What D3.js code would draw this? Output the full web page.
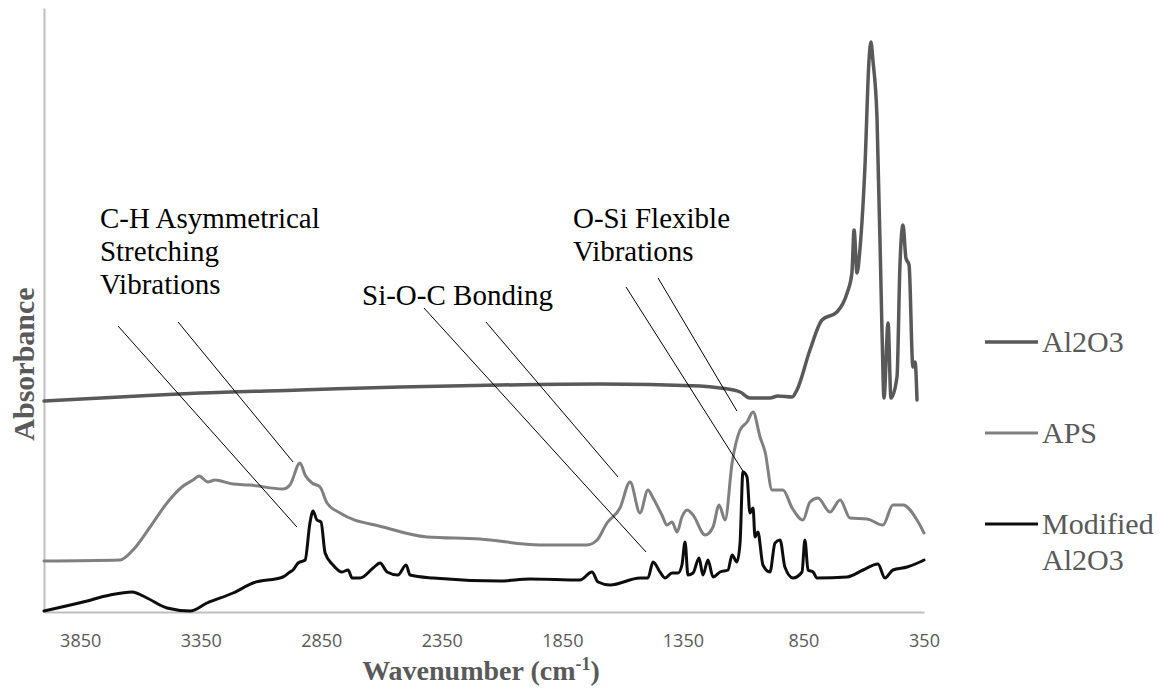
<!DOCTYPE html>
<html>
<head>
<meta charset="utf-8">
<script src="https://cdn.jsdelivr.net/npm/d3@7"></script>
<style>
    body { margin: 0; background: #fff; }
    svg { display: block; }
</style>
</head>
<body>
<svg id="chart"></svg>
<script>
// FTIR spectra (wavenumber in cm-1, absorbance in arbitrary units)
const al2o3Wavenumber = [4000, 3685, 3353, 2938, 2523, 2109, 1694, 1279, 1196, 1113, 1072, 989, 956, 897, 877, 823, 773, 711, 669, 649, 640, 628, 615, 595, 578, 570, 562, 545, 524, 516, 499, 487, 462, 450, 437, 425, 412, 396, 387, 379];
const al2o3Absorbance = [0.422, 0.430, 0.438, 0.444, 0.450, 0.454, 0.456, 0.452, 0.448, 0.440, 0.428, 0.428, 0.432, 0.430, 0.444, 0.524, 0.584, 0.600, 0.638, 0.678, 0.764, 0.678, 0.730, 0.890, 1.104, 1.140, 1.104, 0.990, 0.558, 0.428, 0.578, 0.428, 0.470, 0.690, 0.774, 0.708, 0.694, 0.490, 0.500, 0.424];

const apsWavenumber = [4000, 3685, 3631, 3560, 3490, 3428, 3382, 3357, 3320, 3291, 3216, 3146, 3009, 2980, 2938, 2917, 2888, 2855, 2826, 2772, 2594, 2411, 2192, 1943, 1748, 1706, 1665, 1611, 1569, 1528, 1495, 1474, 1437, 1416, 1395, 1374, 1354, 1333, 1308, 1258, 1225, 1200, 1175, 1146, 1113, 1084, 1059, 1030, 1009, 980, 935, 897, 852, 823, 790, 740, 698, 657, 586, 520, 479, 437, 379, 350];
const apsAbsorbance = [0.102, 0.104, 0.124, 0.170, 0.218, 0.250, 0.264, 0.272, 0.260, 0.264, 0.256, 0.254, 0.246, 0.254, 0.298, 0.274, 0.258, 0.250, 0.218, 0.198, 0.170, 0.150, 0.146, 0.134, 0.134, 0.144, 0.178, 0.208, 0.260, 0.198, 0.244, 0.228, 0.194, 0.174, 0.180, 0.160, 0.190, 0.204, 0.194, 0.154, 0.170, 0.214, 0.184, 0.298, 0.364, 0.380, 0.400, 0.350, 0.320, 0.244, 0.244, 0.208, 0.184, 0.220, 0.228, 0.200, 0.224, 0.188, 0.186, 0.174, 0.214, 0.214, 0.184, 0.158];

const modWavenumber = [4000, 3838, 3726, 3635, 3573, 3490, 3394, 3324, 3216, 3133, 3009, 2980, 2967, 2946, 2917, 2897, 2884, 2868, 2851, 2834, 2801, 2764, 2739, 2722, 2689, 2635, 2606, 2577, 2532, 2498, 2482, 2386, 2109, 1984, 1777, 1727, 1702, 1652, 1528, 1495, 1474, 1445, 1424, 1395, 1370, 1354, 1341, 1329, 1308, 1283, 1267, 1246, 1225, 1196, 1163, 1146, 1126, 1113, 1101, 1084, 1072, 1059, 1051, 1039, 1018, 989, 968, 947, 927, 893, 856, 844, 831, 810, 794, 669, 603, 541, 512, 479, 420, 367, 350];
const modAbsorbance = [0.002, 0.020, 0.034, 0.040, 0.028, 0.008, 0.002, 0.018, 0.038, 0.058, 0.070, 0.080, 0.084, 0.098, 0.104, 0.178, 0.202, 0.184, 0.180, 0.118, 0.094, 0.080, 0.084, 0.068, 0.068, 0.088, 0.098, 0.080, 0.074, 0.094, 0.074, 0.068, 0.062, 0.066, 0.064, 0.080, 0.060, 0.054, 0.068, 0.068, 0.100, 0.080, 0.068, 0.078, 0.078, 0.094, 0.140, 0.074, 0.078, 0.108, 0.074, 0.104, 0.070, 0.080, 0.084, 0.114, 0.100, 0.138, 0.280, 0.270, 0.198, 0.208, 0.150, 0.160, 0.094, 0.080, 0.138, 0.144, 0.090, 0.068, 0.080, 0.144, 0.084, 0.080, 0.068, 0.070, 0.084, 0.096, 0.068, 0.084, 0.090, 0.100, 0.104];

const seriesNames = ["Al2O3", "APS", "Modified Al2O3"];
const tickLabels = [3850, 3350, 2850, 2350, 1850, 1350, 850, 350];

const series = [
    { name: seriesNames[0], x: al2o3Wavenumber, y: al2o3Absorbance, color: "#595959", width: 3.5 },
    { name: seriesNames[1], x: apsWavenumber, y: apsAbsorbance, color: "#808080", width: 3 },
    { name: seriesNames[2], x: modWavenumber, y: modAbsorbance, color: "#0d0d0d", width: 3 },
];

// peak annotations, anchored in data units
const annotations = [
    { lines: ["C-H Asymmetrical", "Stretching", "Vibrations"], at: [3768, 0.768],
      leaders: [[[3693, 0.572], [2951, 0.170]], [[3444, 0.580], [2967, 0.300]]] },
    { lines: ["Si-O-C Bonding"], at: [2681, 0.614],
      leaders: [[[2424, 0.608], [1503, 0.120]], [[2167, 0.580], [1619, 0.270]]] },
    { lines: ["O-Si Flexible", "Vibrations"], at: [1806, 0.768],
      leaders: [[[1586, 0.650], [1101, 0.282]], [[1453, 0.668], [1126, 0.402]]] },
];

const config = {
    width: 1167,
    height: 692,
    plotLeft: 44,
    plotRight: 924,
    plotTop: 8,
    plotBottom: 612,
    axisColor: "#bfbfbf",
    textColor: "#595959",
    serif: "'Liberation Serif', 'Times New Roman', serif",
};

const svg = d3.select("#chart")
    .attr("width", config.width)
    .attr("height", config.height);

const xScale = d3.scaleLinear()
    .domain([4000, 350])
    .range([config.plotLeft, config.plotRight]);

const yScale = d3.scaleLinear()
    .domain([0, 1.208])
    .range([config.plotBottom, config.plotTop]);

// axes
const xAxis = d3.axisBottom(xScale)
    .tickValues(tickLabels)
    .tickFormat(d3.format("d"))
    .tickSize(0)
    .tickPadding(22);

const xAxisG = svg.append("g")
    .attr("transform", `translate(0, ${config.plotBottom})`)
    .call(xAxis);

xAxisG.select(".domain")
    .attr("stroke", config.axisColor)
    .attr("stroke-width", 2);

xAxisG.selectAll("text")
    .attr("fill", config.textColor)
    .style("font-family", "'Open Sans', 'Noto Sans', sans-serif")
    .style("font-size", "18px");

const yAxisG = svg.append("g")
    .attr("transform", `translate(${config.plotLeft}, 0)`)
    .call(d3.axisLeft(yScale).tickValues([]).tickSizeOuter(0));

yAxisG.select(".domain")
    .attr("stroke", config.axisColor)
    .attr("stroke-width", 2);

// axis titles
const xTitle = svg.append("text")
    .attr("x", 481)
    .attr("y", 680)
    .attr("text-anchor", "middle")
    .attr("fill", config.textColor)
    .style("font-family", config.serif)
    .style("font-size", "28px")
    .style("font-weight", "bold");
xTitle.append("tspan").text("Wavenumber (cm");
xTitle.append("tspan").attr("dy", -10).style("font-size", "18px").text("-1");
xTitle.append("tspan").attr("dy", 10).text(")");

svg.append("text")
    .attr("transform", `translate(34, ${(config.plotTop + config.plotBottom) / 2 + 54}) rotate(-90)`)
    .attr("text-anchor", "middle")
    .attr("fill", config.textColor)
    .style("font-family", config.serif)
    .style("font-size", "30px")
    .style("font-weight", "bold")
    .text("Absorbance");

// spectra
const line = d3.line()
    .x((d) => xScale(d[0]))
    .y((d) => yScale(d[1]))
    .curve(d3.curveMonotoneX);

svg.append("g")
    .selectAll("path")
    .data(series)
    .join("path")
    .attr("fill", "none")
    .attr("stroke", (d) => d.color)
    .attr("stroke-width", (d) => d.width)
    .attr("stroke-linejoin", "round")
    .attr("stroke-linecap", "round")
    .attr("d", (d) => line(d3.zip(d.x, d.y)));

// annotations
const annG = svg.append("g");

annotations.forEach((a) => {
    annG.selectAll(null)
        .data(a.leaders)
        .join("line")
        .attr("x1", (d) => xScale(d[0][0]))
        .attr("y1", (d) => yScale(d[0][1]))
        .attr("x2", (d) => xScale(d[1][0]))
        .attr("y2", (d) => yScale(d[1][1]))
        .attr("stroke", "#000")
        .attr("stroke-width", 1);

    const t = annG.append("text")
        .attr("x", xScale(a.at[0]))
        .attr("y", yScale(a.at[1]))
        .attr("fill", "#000")
        .style("font-family", config.serif)
        .style("font-size", "29px");

    t.selectAll("tspan")
        .data(a.lines)
        .join("tspan")
        .attr("x", xScale(a.at[0]))
        .attr("dy", (d, i) => (i === 0 ? 0 : 33))
        .text((d) => d);
});

// legend
const legendRows = [
    { s: series[0], y: 342, lines: ["Al2O3"] },
    { s: series[1], y: 433, lines: ["APS"] },
    { s: series[2], y: 524, lines: ["Modified", "Al2O3"] },
];

const legend = svg.append("g");

legendRows.forEach((r) => {
    legend.append("line")
        .attr("x1", 985)
        .attr("x2", 1038)
        .attr("y1", r.y)
        .attr("y2", r.y)
        .attr("stroke", r.s.color)
        .attr("stroke-width", r.s.width);

    const t = legend.append("text")
        .attr("x", 1042)
        .attr("y", r.y + 10)
        .attr("fill", config.textColor)
        .style("font-family", config.serif)
        .style("font-size", "30px");

    t.selectAll("tspan")
        .data(r.lines)
        .join("tspan")
        .attr("x", 1042)
        .attr("dy", (d, i) => (i === 0 ? 0 : 36))
        .text((d) => d);
});
</script>
</body>
</html>
